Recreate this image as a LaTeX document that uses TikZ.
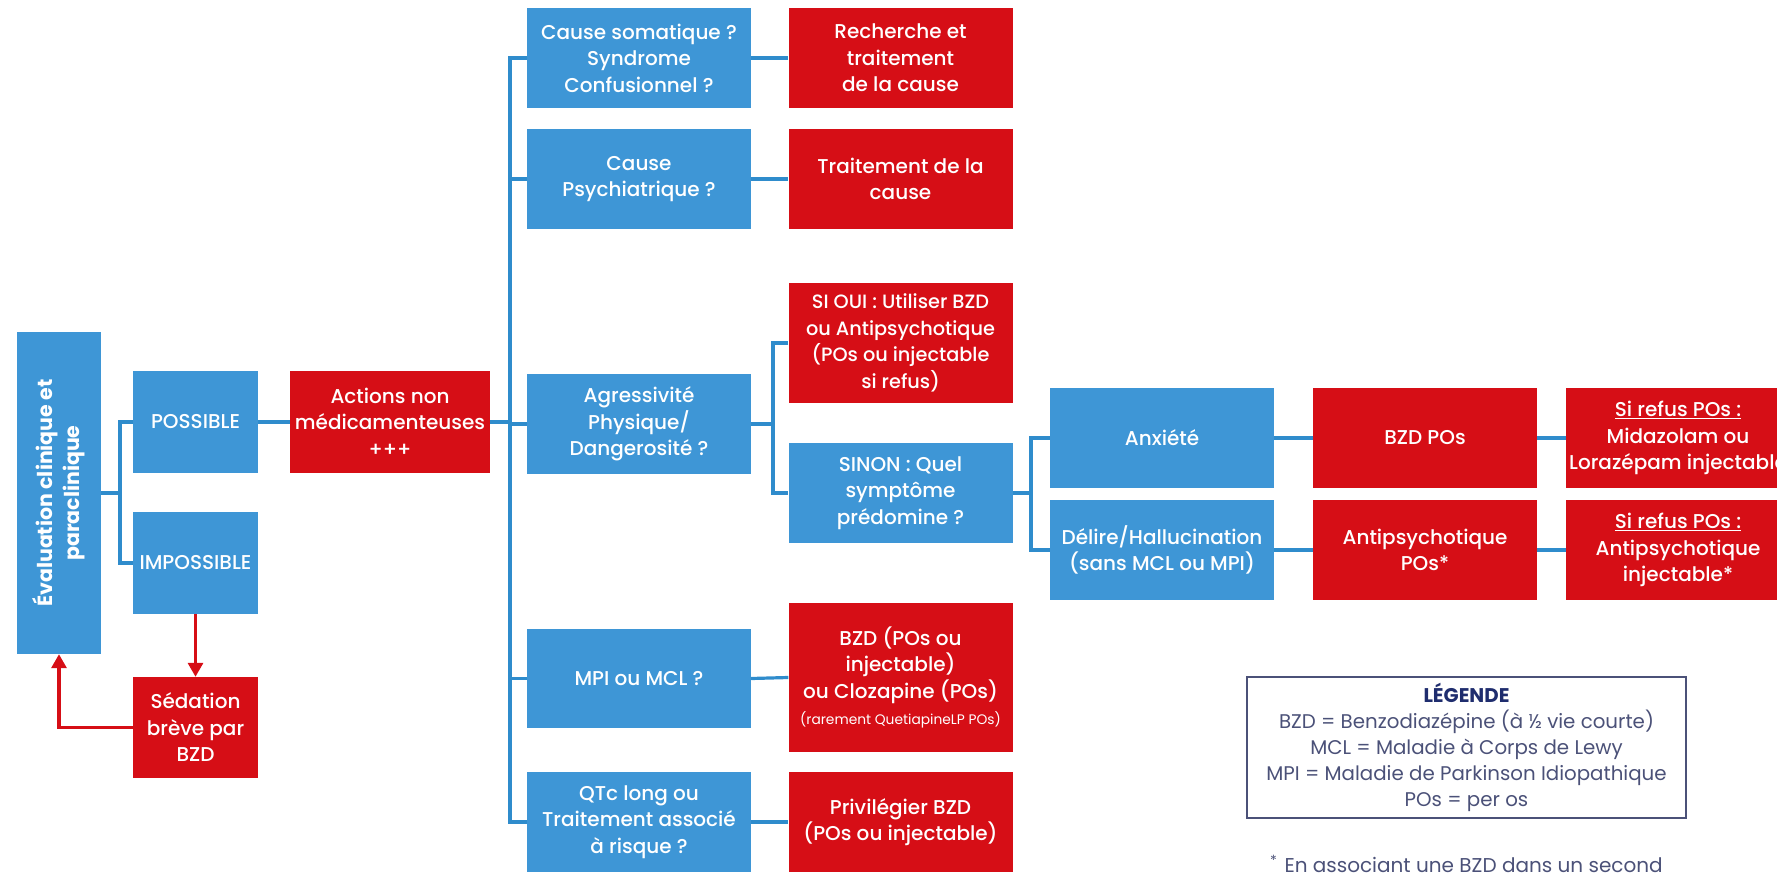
\documentclass[tikz,border=0pt]{standalone}
\usepackage{fontspec}
\setmainfont{Poppins}
\newfontfamily\pmed{Poppins Medium}
\usetikzlibrary{arrows.meta}
\definecolor{bblue}{RGB}{62,150,214}
\definecolor{lblue}{RGB}{47,140,204}
\definecolor{rred}{RGB}{214,14,22}
\definecolor{navy}{RGB}{31,45,110}
\definecolor{lgray}{RGB}{75,81,120}
\begin{document}
\begin{tikzpicture}[x=1pt,y=-1pt,
 bx/.style={minimum width=224pt,minimum height=100pt,inner sep=0pt,align=center,text=white,font=\pmed\fontsize{20}{26.5}\selectfont},
 bluebox/.style={bx,fill=bblue},
 redbox/.style={bx,fill=rred},
 conn/.style={draw=lblue,line width=3.2pt},
 rarr/.style={draw=rred,line width=3.2pt,-{Triangle[length=14pt,width=15pt]}}]
\useasboundingbox (0,0) rectangle (1777,875);
% left part
\node[bluebox,minimum width=84pt,minimum height=322pt] (eval) at (59,493) {};
\node[rotate=90,align=center,text=white,font=\bfseries\fontsize{20.5}{27}\selectfont] (evalt) at (eval.center) {Évaluation clinique et\\paraclinique};
\node[bluebox,minimum width=125pt,minimum height=102pt] (poss) at (195.5,422) {POSSIBLE};
\node[bluebox,minimum width=125pt,minimum height=102pt] (imp) at (195.5,563) {IMPOSSIBLE};
\node[redbox,minimum width=125pt,minimum height=101pt] (sed) at (195.5,727.5) {Sédation\\brève par\\BZD};
\node[redbox,minimum width=200pt,minimum height=102pt] (act) at (390,422) {Actions non\\médicamenteuses\\+++};
% column 2
\node[bluebox] (cs) at (639,58) {Cause somatique ?\\Syndrome\\Confusionnel ?};
\node[bluebox] (cp) at (639,179) {Cause\\Psychiatrique ?};
\node[bluebox] (agr) at (639,424) {Agressivité\\Physique/\\Dangerosité ?};
\node[bluebox,minimum height=99pt] (mpi) at (639,678.5) {MPI ou MCL ?};
\node[bluebox] (qtc) at (639,822) {QTc long ou\\Traitement associé\\à risque ?};
% column 3
\node[redbox] (rech) at (900.5,58) {Recherche et\\traitement\\de la cause};
\node[redbox] (trait) at (900.5,179) {Traitement de la\\cause};
\node[redbox,minimum height=120pt,font=\pmed\fontsize{19.3}{26.5}\selectfont] (oui) at (900.5,343) {SI OUI : Utiliser BZD\\ou Antipsychotique\\(POs ou injectable\\si refus)};
\node[bluebox] (sinon) at (900.5,493) {SINON : Quel\\symptôme\\prédomine ?};
\node[redbox,minimum height=149pt] (bzdinj) at (900.5,677.5) {BZD (POs ou\\injectable)\\ou Clozapine (POs)\\{\normalfont\fontsize{13.8}{20}\selectfont (rarement QuetiapineLP POs)}};
\node[redbox] (priv) at (900.5,822) {Privilégier BZD\\(POs ou injectable)};
% column 4-6
\node[bluebox] (anx) at (1162,438) {Anxiété};
\node[bluebox] (del) at (1162,550) {Délire/Hallucination\\(sans MCL ou MPI)};
\node[redbox] (bzdpo) at (1425,438) {BZD POs};
\node[redbox] (ap) at (1425,550) {Antipsychotique\\POs*};
\node[redbox] (ref1) at (1678,438) {\underline{Si refus POs :}\\Midazolam ou\\Lorazépam injectable};
\node[redbox] (ref2) at (1678,550) {\underline{Si refus POs :}\\Antipsychotique\\injectable*};
% legend
\node[draw=lgray,line width=1.4pt,minimum width=439pt,minimum height=141pt,inner sep=0pt,align=center,text=lgray,font=\fontsize{19.8}{26.2}\selectfont] (leg) at (1466.5,747.5) {{\bfseries\color{navy}LÉGENDE}\\BZD = Benzodiazépine (à ½ vie courte)\\MCL = Maladie à Corps de Lewy\\MPI = Maladie de Parkinson Idiopathique\\POs = per os};
\node[anchor=west,inner sep=0pt,text=lgray,font=\fontsize{20}{26}\selectfont] (foot) at (1270,864) {\textsuperscript{*}\hspace{7pt}En associant une BZD dans un second};
% coordinates for connector spines
\coordinate (e1) at (120,493);
\coordinate (m0) at (510,0);
\coordinate (a0) at (773,0);
\coordinate (s0) at (1031,0);
% connectors
\draw[conn] (eval.east) -- (e1);
\draw[conn] (poss.west) -| (e1) |- (imp.west);
\draw[conn] (poss.east) -- (act.west);
\draw[conn] (act.east) -- (act.east -| m0);
\draw[conn] (cs.west) -- (cs.west -| m0) -- (qtc.west -| m0) -- (qtc.west);
\draw[conn] (cp.west) -- (cp.west -| m0);
\draw[conn] (agr.west) -- (agr.west -| m0);
\draw[conn] (mpi.west) -- (mpi.west -| m0);
\draw[conn] (cs.east) -- (rech.west);
\draw[conn] (cp.east) -- (trait.west);
\draw[conn] (mpi.east) -- (bzdinj.west);
\draw[conn] (qtc.east) -- (priv.west);
\draw[conn] (agr.east) -- (agr.east -| a0);
\draw[conn] (oui.west) -- (oui.west -| a0) -- (sinon.west -| a0) -- (sinon.west);
\draw[conn] (sinon.east) -- (sinon.east -| s0);
\draw[conn] (anx.west) -- (anx.west -| s0) -- (del.west -| s0) -- (del.west);
\draw[conn] (anx.east) -- (bzdpo.west);
\draw[conn] (bzdpo.east) -- (ref1.west);
\draw[conn] (del.east) -- (ap.west);
\draw[conn] (ap.east) -- (ref2.west);
% red arrows
\draw[rarr] (imp.south) -- (sed.north);
\draw[rarr] (sed.west) -| (eval.south);
\end{tikzpicture}
\end{document}
